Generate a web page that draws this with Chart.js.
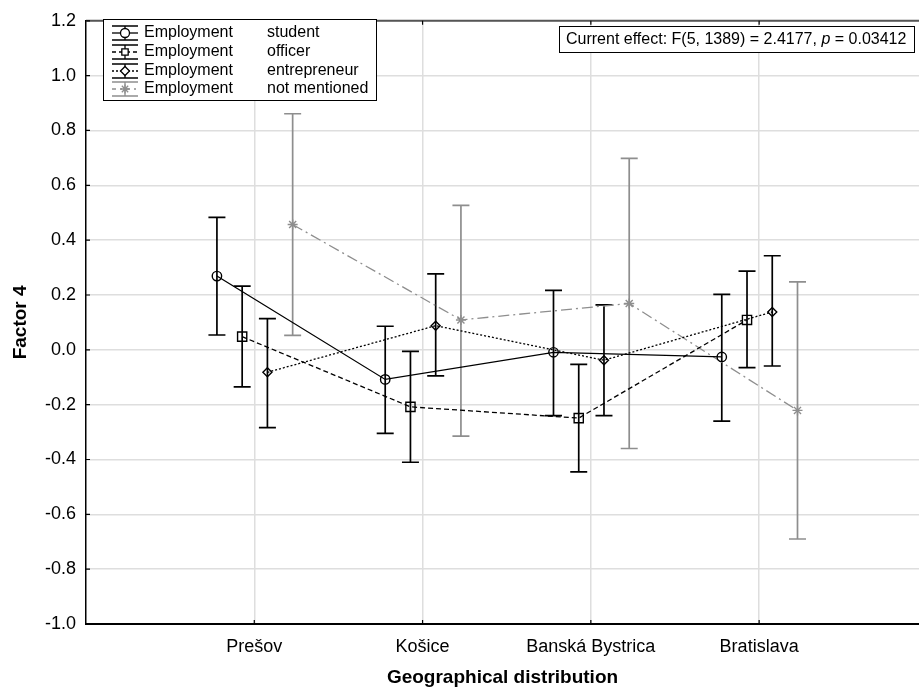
<!DOCTYPE html>
<html>
<head>
<meta charset="utf-8">
<script src="https://cdn.jsdelivr.net/npm/chart.js@4.4.1/dist/chart.umd.min.js"></script>
<style>
  html, body { margin: 0; padding: 0; background: #fff; }
  #wrap { width: 919px; height: 693px; }
</style>
</head>
<body>
<div id="wrap"><canvas id="chart" width="919" height="693"></canvas></div>
<script>
// data
const categories = ['Prešov', 'Košice', 'Banská Bystrica', 'Bratislava'];
const groupLabels = ['student', 'officer', 'entrepreneur', 'not mentioned'];
const yTicks = [-1.0, -0.8, -0.6, -0.4, -0.2, 0.0, 0.2, 0.4, 0.6, 0.8, 1.0, 1.2];

const studentMean = [0.269, -0.108, -0.009, -0.026];
const studentLow = [0.054, -0.305, -0.240, -0.260];
const studentHigh = [0.483, 0.086, 0.217, 0.202];

const officerMean = [0.048, -0.208, -0.249, 0.109];
const officerLow = [-0.135, -0.410, -0.445, -0.065];
const officerHigh = [0.232, -0.006, -0.053, 0.287];

const entrepreneurMean = [-0.082, 0.088, -0.038, 0.138];
const entrepreneurLow = [-0.284, -0.095, -0.240, -0.059];
const entrepreneurHigh = [0.114, 0.277, 0.164, 0.343];

const notMentionedMean = [0.457, 0.109, 0.169, -0.221];
const notMentionedLow = [0.053, -0.315, -0.360, -0.690];
const notMentionedHigh = [0.861, 0.527, 0.698, 0.248];

const effectText = 'Current effect: F(5, 1389) = 2.4177, ';
const effectP = '0.03412';

// styling
const FONT = "'Liberation Sans', Arial, sans-serif";
const offsets = [-0.222, -0.072, 0.078, 0.228];
const GRAY = '#8e8e8e';

const styles = [
  { color: '#000', dash: [], pointStyle: 'circle', radius: 4.7 },
  { color: '#000', dash: [5, 3], pointStyle: 'rect', radius: 6.5 },
  { color: '#000', dash: [2, 2], pointStyle: 'rectRot', radius: 4.5 },
  { color: GRAY, dash: [11, 4, 2, 4], pointStyle: 'star', radius: 5 }
];

const means = [studentMean, officerMean, entrepreneurMean, notMentionedMean];
const lows = [studentLow, officerLow, entrepreneurLow, notMentionedLow];
const highs = [studentHigh, officerHigh, entrepreneurHigh, notMentionedHigh];

const datasets = means.map((m, s) => ({
  label: 'Employment ' + groupLabels[s],
  data: m.map((v, i) => ({ x: i + 1 + offsets[s], y: v })),
  low: lows[s],
  high: highs[s],
  borderColor: styles[s].color,
  borderWidth: 1.3,
  borderDash: styles[s].dash,
  pointStyle: styles[s].pointStyle,
  pointRadius: styles[s].radius,
  pointBorderColor: styles[s].color,
  pointBackgroundColor: 'rgba(0,0,0,0)',
  pointBorderWidth: 1.4,
  tension: 0,
  fill: false
}));

// error bars under the lines
const errorBars = {
  id: 'errorBars',
  beforeDatasetsDraw(chart) {
    const ctx = chart.ctx;
    const y = chart.scales.y;
    ctx.save();
    chart.data.datasets.forEach((ds, s) => {
      const meta = chart.getDatasetMeta(s);
      ctx.strokeStyle = ds.borderColor;
      ctx.lineWidth = 1.7;
      ctx.setLineDash([]);
      meta.data.forEach((pt, i) => {
        const x = pt.x;
        const yl = y.getPixelForValue(ds.low[i]);
        const yh = y.getPixelForValue(ds.high[i]);
        ctx.beginPath();
        ctx.moveTo(x, yl); ctx.lineTo(x, yh);
        ctx.moveTo(x - 8.5, yl); ctx.lineTo(x + 8.5, yl);
        ctx.moveTo(x - 8.5, yh); ctx.lineTo(x + 8.5, yh);
        ctx.stroke();
      });
    });
    ctx.restore();
  }
};

// frame, inner ticks, legend and effect box
const decorations = {
  id: 'decorations',
  afterDraw(chart) {
    const ctx = chart.ctx;
    const a = chart.chartArea;
    const xs = chart.scales.x, ys = chart.scales.y;
    ctx.save();
    // top frame line
    ctx.strokeStyle = '#555';
    ctx.lineWidth = 2;
    ctx.beginPath();
    ctx.moveTo(a.left, a.top); ctx.lineTo(a.right, a.top);
    ctx.stroke();
    // inner ticks
    ctx.lineWidth = 1.2;
    ctx.strokeStyle = '#000';
    ctx.beginPath();
    yTicks.forEach(v => {
      const py = ys.getPixelForValue(v);
      ctx.moveTo(a.left, py); ctx.lineTo(a.left + 4, py);
    });
    categories.forEach((c, i) => {
      const px = xs.getPixelForValue(i + 1);
      ctx.moveTo(px, a.bottom); ctx.lineTo(px, a.bottom - 4);
      ctx.moveTo(px, a.top); ctx.lineTo(px, a.top + 4);
    });
    ctx.stroke();

    // legend
    const lx = 103, ly = 19, lw = 273, lh = 81;
    ctx.fillStyle = '#fff';
    ctx.fillRect(lx, ly, lw, lh);
    ctx.strokeStyle = '#000';
    ctx.lineWidth = 1;
    ctx.strokeRect(lx + 0.5, ly + 0.5, lw, lh);
    const rowY = [33, 52, 71, 89];
    ctx.font = '16px ' + FONT;
    ctx.textBaseline = 'middle';
    chart.data.datasets.forEach((ds, s) => {
      const ry = rowY[s];
      const x0 = 112, x1 = 138, xm = 125;
      ctx.strokeStyle = ds.borderColor;
      ctx.lineWidth = 1.3;
      // error bar symbol
      ctx.setLineDash([]);
      ctx.beginPath();
      ctx.moveTo(xm, ry - 7); ctx.lineTo(xm, ry + 7);
      ctx.moveTo(x0, ry - 7); ctx.lineTo(x1, ry - 7);
      ctx.moveTo(x0, ry + 7); ctx.lineTo(x1, ry + 7);
      ctx.stroke();
      // line symbol
      ctx.setLineDash(ds.borderDash.length ? ds.borderDash.map(d => Math.min(d, 4)) : []);
      ctx.beginPath();
      ctx.moveTo(x0, ry); ctx.lineTo(x1, ry);
      ctx.stroke();
      ctx.setLineDash([]);
      ctx.fillStyle = '#fff';
      Chart.helpers.drawPoint(ctx, {
        pointStyle: ds.pointStyle,
        radius: Math.min(ds.pointRadius, 4.5),
        borderWidth: 1.3
      }, xm, ry);
      ctx.fillStyle = '#000';
      ctx.fillText('Employment', 144, ry);
      ctx.fillText(groupLabels[s], 267, ry);
    });

    // effect box
    const bx = 559, by = 26, bw = 355, bh = 26;
    ctx.fillStyle = '#fff';
    ctx.fillRect(bx, by, bw, bh);
    ctx.strokeStyle = '#000';
    ctx.lineWidth = 1;
    ctx.strokeRect(bx + 0.5, by + 0.5, bw, bh);
    ctx.fillStyle = '#000';
    ctx.font = '16px ' + FONT;
    let tx = 566;
    const ty = by + bh / 2 + 1;
    ctx.fillText(effectText, tx, ty);
    tx += ctx.measureText(effectText).width;
    ctx.font = 'italic 16px ' + FONT;
    ctx.fillText('p', tx, ty);
    tx += ctx.measureText('p').width;
    ctx.font = '16px ' + FONT;
    ctx.fillText(' = ' + effectP, tx, ty);
    ctx.restore();
  }
};

new Chart(document.getElementById('chart').getContext('2d'), {
  type: 'line',
  data: { datasets: datasets },
  plugins: [errorBars, decorations],
  options: {
    responsive: false,
    animation: false,
    layout: { autoPadding: false, padding: { top: 15, right: 0, bottom: 0, left: 0 } },
    plugins: { legend: { display: false }, tooltip: { enabled: false } },
    scales: {
      x: {
        type: 'linear',
        min: 0,
        max: 4.95,
        afterFit: s => { s.height = 69; },
        afterBuildTicks: s => { s.ticks = categories.map((c, i) => ({ value: i + 1 })); },
        ticks: {
          autoSkip: false,
          maxRotation: 0,
          padding: 12,
          color: '#000',
          font: { family: FONT, size: 18 },
          callback: v => categories[Math.round(v) - 1] || ''
        },
        grid: { color: '#dedede', lineWidth: 1.5, drawTicks: false },
        border: { color: '#000', width: 2 },
        title: {
          display: true,
          text: 'Geographical distribution',
          color: '#000',
          font: { family: FONT, size: 19, weight: 'bold' },
          padding: { top: 0, bottom: 4 }
        }
      },
      y: {
        min: -1.0,
        max: 1.2,
        afterFit: s => { s.width = 86; },
        afterBuildTicks: s => { s.ticks = yTicks.map(v => ({ value: v })); },
        ticks: {
          padding: 10,
          color: '#000',
          font: { family: FONT, size: 18 },
          callback: v => v.toFixed(1)
        },
        grid: { color: '#dedede', lineWidth: 1.5, drawTicks: false },
        border: { color: '#000', width: 1.5 },
        title: {
          display: true,
          text: 'Factor 4',
          color: '#000',
          font: { family: FONT, size: 19, weight: 'bold' },
          padding: { top: 9, bottom: 0 }
        }
      }
    }
  }
});
</script>
</body>
</html>
